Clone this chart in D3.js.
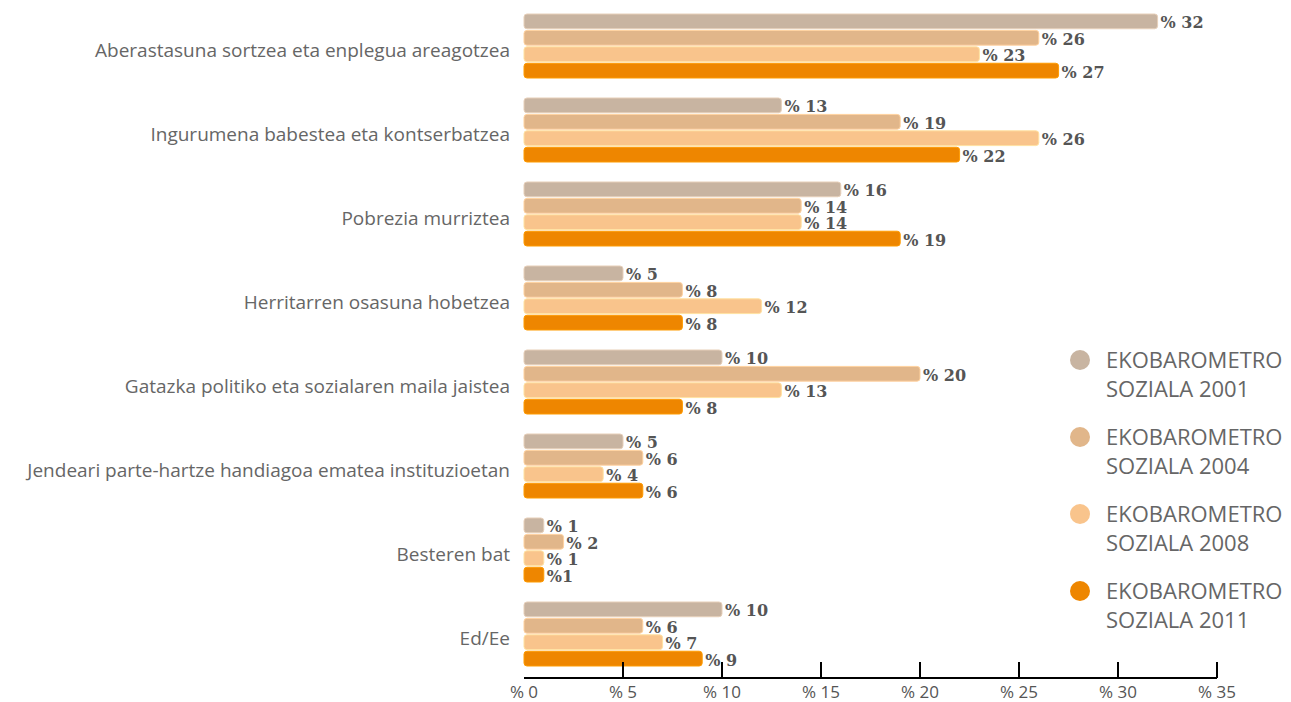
<!DOCTYPE html>
<html>
<head>
<meta charset="utf-8">
<script src="https://cdn.jsdelivr.net/npm/d3@7"></script>
<style>
  html, body { margin: 0; padding: 0; background: #fff; }
  svg { display: block; }
</style>
</head>
<body>
<svg id="chart" width="1291" height="702"></svg>
<script>
// Categories (top to bottom)
const categories = [
  "Aberastasuna sortzea eta enplegua areagotzea",
  "Ingurumena babestea eta kontserbatzea",
  "Pobrezia murriztea",
  "Herritarren osasuna hobetzea",
  "Gatazka politiko eta sozialaren maila jaistea",
  "Jendeari parte-hartze handiagoa ematea instituzioetan",
  "Besteren bat",
  "Ed/Ee"
];

// Survey editions
const seriesNames = ["2001", "2004", "2008", "2011"];
const seriesColors = ["#c8b4a1", "#e1b68a", "#f9c48c", "#ee8600"];

// Percentages per edition, same order as categories
const values2001 = [32, 13, 16, 5, 10, 5, 1, 10];
const values2004 = [26, 19, 14, 8, 20, 6, 2, 6];
const values2008 = [23, 26, 14, 12, 13, 4, 1, 7];
const values2011 = [27, 22, 19, 8, 8, 6, 1, 9];
const seriesValues = [values2001, values2004, values2008, values2011];

// Value labels as printed
const labels2011 = ["% 27", "% 22", "% 19", "% 8", "% 8", "% 6", "%1", "% 9"];

const xTicks = [0, 5, 10, 15, 20, 25, 30, 35];

const svg = d3.select("#chart");

const x = d3.scaleLinear().domain([0, 35]).range([524, 1217]);

const y0 = d3.scaleBand()
  .domain(categories)
  .range([14, 666])
  .paddingInner(0.238)
  .paddingOuter(0);

const y1 = d3.scaleBand()
  .domain(seriesNames)
  .range([0, y0.bandwidth()])
  .paddingInner(0.1);

const color = d3.scaleOrdinal().domain(seriesNames).range(seriesColors);

// Rows of data
const rows = [];
categories.forEach((c, i) => {
  seriesNames.forEach((s, j) => {
    const v = seriesValues[j][i];
    const label = j === 3 ? labels2011[i] : "% " + v;
    rows.push({ cat: c, series: s, value: v, label });
  });
});

// Bars
svg.append("g")
  .selectAll("rect")
  .data(rows)
  .join("rect")
  .attr("x", x(0))
  .attr("y", d => y0(d.cat) + y1(d.series))
  .attr("width", d => x(d.value) - x(0))
  .attr("height", y1.bandwidth())
  .attr("rx", 3)
  .attr("fill", d => color(d.series))
  .attr("stroke", d => d3.color(color(d.series)).brighter(0.4))
  .attr("stroke-width", 1);

// Value labels
svg.append("g")
  .selectAll("text")
  .data(rows)
  .join("text")
  .attr("x", d => x(d.value) + 3)
  .attr("y", d => y0(d.cat) + y1(d.series) + y1.bandwidth() / 2 + 1)
  .attr("dy", "0.38em")
  .attr("font-family", "'DejaVu Serif', serif")
  .attr("font-weight", "bold")
  .attr("font-size", 16)
  .attr("fill", "#555")
  .text(d => d.label);

// Category labels
svg.append("g")
  .selectAll("text")
  .data(categories)
  .join("text")
  .attr("x", 510)
  .attr("y", d => y0(d) + y0.bandwidth() / 2 + 4)
  .attr("dy", "0.35em")
  .attr("text-anchor", "end")
  .attr("font-family", "'Open Sans', sans-serif")
  .attr("font-size", 19)
  .attr("fill", "#666")
  .text(d => d);

// X axis
const axisY = 678;
const axis = svg.append("g");
axis.append("line")
  .attr("x1", x(0)).attr("x2", x(35))
  .attr("y1", axisY).attr("y2", axisY)
  .attr("stroke", "#000").attr("stroke-width", 2);
axis.selectAll("line.tick")
  .data(xTicks.filter(t => t > 0))
  .join("line")
  .attr("class", "tick")
  .attr("x1", d => x(d)).attr("x2", d => x(d))
  .attr("y1", axisY).attr("y2", axisY - 16)
  .attr("stroke", "#000").attr("stroke-width", 2);
axis.selectAll("text")
  .data(xTicks)
  .join("text")
  .attr("x", d => x(d))
  .attr("y", 698)
  .attr("text-anchor", "middle")
  .attr("font-family", "'Open Sans', sans-serif")
  .attr("font-size", 17)
  .attr("fill", "#555")
  .text(d => "% " + d);

// Legend
const legend = svg.append("g")
  .selectAll("g")
  .data(seriesNames)
  .join("g")
  .attr("transform", (d, i) => `translate(1080, ${360 + i * 77})`);
legend.append("circle")
  .attr("r", 10)
  .attr("fill", d => color(d));
legend.append("text")
  .attr("x", 26)
  .attr("y", 0)
  .attr("dy", "0.35em")
  .attr("font-family", "'Open Sans', sans-serif")
  .attr("font-size", 22)
  .attr("fill", "#666")
  .text("EKOBAROMETRO");
legend.append("text")
  .attr("x", 26)
  .attr("y", 29)
  .attr("dy", "0.35em")
  .attr("font-family", "'Open Sans', sans-serif")
  .attr("font-size", 22)
  .attr("fill", "#666")
  .text(d => "SOZIALA " + d);
</script>
</body>
</html>
